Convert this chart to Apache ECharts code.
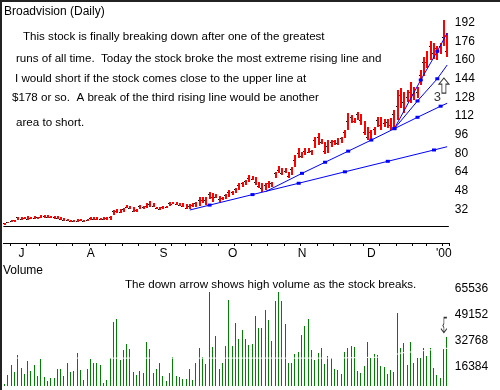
<!DOCTYPE html>
<html><head><meta charset="utf-8">
<script src="https://cdn.jsdelivr.net/npm/echarts@6/dist/echarts.min.js"></script>
<style>html,body{margin:0;padding:0;background:#fff}#c{width:500px;height:390px}</style>
</head><body><div id="c"></div>
<script>
// ---- data ----
const startDate = '1999-06-24';
const holidays = ['1999-07-05','1999-09-06','1999-11-25','1999-12-24'];
const priceLow = [18.7,20.2,21.0,21.6,22.7,23.3,23.6,23.3,23.6,24.2,24.2,24.5,24.5,24.5,24.5,23.6,23.6,23.0,22.2,22.2,21.0,21.3,21.6,22.2,21.6,22.2,23.0,23.3,23.3,22.7,23.0,23.3,23.3,27.3,28.7,29.3,30.1,33.0,32.4,30.1,30.1,32.1,32.4,33.5,33.8,34.4,32.1,31.5,32.4,33.0,35.0,36.4,35.8,35.2,34.4,32.4,32.4,33.8,34.4,35.2,37.2,35.8,40.7,38.8,41.6,38.8,40.2,40.7,42.5,44.5,45.9,48.7,51.6,53.0,55.9,57.3,53.0,50.2,47.3,48.7,50.2,51.6,58.7,63.0,61.6,63.0,58.7,61.6,68.7,75.9,75.9,78.7,80.2,78.7,84.4,87.3,88.1,79.6,80.2,85.9,87.3,87.3,88.7,93.0,100.1,105.9,105.9,108.7,104.4,96.0,91.5,91.0,95.8,102.9,100.1,102.9,101.5,100.1,102.9,108.7,118.6,114.4,124.4,122.9,125.8,127.2,138.6,146.0,152.9,160.0,161.0,160.0,165.0,172.0,163.0];
const priceHigh = [20.7,21.6,22.7,23.3,25.9,25.6,25.6,26.4,25.9,26.4,25.9,27.0,27.3,27.3,26.7,26.4,26.4,25.9,24.5,23.6,23.0,23.0,23.6,23.9,23.3,23.6,25.6,25.6,25.3,25.0,25.3,25.6,26.7,31.5,32.4,32.1,33.0,35.8,35.2,33.8,32.1,35.8,35.0,37.2,39.5,37.2,34.4,33.8,35.2,35.2,38.1,38.7,38.1,37.2,37.2,36.7,36.7,37.2,38.1,42.4,42.5,42.5,47.3,46.5,45.3,43.6,42.5,45.3,48.7,48.2,50.2,54.5,55.9,57.3,61.6,60.7,59.6,55.9,55.0,54.5,56.7,55.9,64.4,69.3,67.3,67.3,64.4,68.7,78.7,84.4,81.6,84.4,84.4,83.0,94.4,97.3,92.1,90.1,91.6,91.6,91.6,93.0,94.4,100.1,114.4,113.0,110.1,115.8,113.8,108.0,102.9,100.1,102.4,111.5,110.9,109.2,109.2,110.1,117.2,134.3,135.8,132.9,134.3,141.5,137.2,137.2,151.5,162.9,168.0,176.0,175.0,172.0,175.0,194.0,183.0];
const priceClose = [20.2,21.2,22.3,22.8,25.3,24.0,24.6,24.2,25.0,25.1,25.4,25.5,26.2,25.6,25.5,25.3,24.5,23.8,23.0,22.9,22.0,22.6,22.3,22.8,22.6,23.2,24.8,24.1,24.2,24.0,23.6,24.6,25.8,30.6,31.0,30.2,32.4,34.6,33.2,31.0,31.4,34.9,33.8,35.2,36.5,35.0,33.0,32.4,34.0,34.5,37.5,37.0,36.5,36.0,35.1,33.5,35.0,35.7,37.3,40.5,39.8,40.2,45.5,43.0,42.8,41.0,41.6,44.2,46.8,47.1,49.4,53.0,54.6,56.4,59.0,58.4,55.2,52.0,50.6,53.2,54.8,55.0,63.2,65.5,63.6,65.4,61.0,67.0,74.5,80.6,78.0,82.5,81.4,82.2,91.8,94.0,90.0,82.0,86.0,89.6,90.5,89.4,93.2,98.5,108.0,111.4,108.2,113.5,109.0,98.5,94.0,98.2,101.0,109.0,104.5,106.4,107.0,104.8,114.0,121.0,130.5,124.0,128.0,132.5,131.0,133.0,147.0,158.0,158.5,172.0,166.0,170.5,172.0,180.0,168.0];
const volume = [5540,11189,17465,13281,23741,15791,12000,19975,13909,17465,10771,21231,10143,7633,9515,9515,14955,14955,10771,18720,12863,13700,24996,14327,8051,14955,21231,18720,18720,17465,5959,8260,21858,44661,46335,20603,26879,30645,27507,13072,11189,13700,12235,31900,27716,12654,14955,18720,10771,7633,12444,22486,10561,10143,8888,8679,14955,8051,18511,28134,22695,18302,63280,28764,35667,14955,18720,29392,58259,29392,43615,33785,39431,33785,30000,30645,48218,40896,40896,51983,45707,32527,57632,63280,57632,43197,18511,18511,24369,25624,36293,41945,46335,26879,20603,24996,28134,18093,23112,21858,14955,14327,11817,25624,28134,29392,28974,13700,12444,16838,31900,21858,24369,23741,16838,16210,11817,14327,13072,50100,28134,31272,17465,31900,18720,21858,21858,28134,23112,28134,15583,11189,9306,27507,35040];
const volMaIdx = [0,100,116,120,134];
const volMaVal = [21800,21800,22500,25000,28000];
// trend lines: endpoints + marker points (index, price)
const lineA_idx = [56,62,75,89,103,116,130,134];
const lineA_val = [31.6,35.8,44.8,54.5,64.3,73.3,83.0,85.8];
const lineA_mark = [0,1,1,1,1,1,1,0];
const lineB_idx = [79,90,97,104,111,125,132,134];
const lineB_val = [47.4,63.0,72.5,82.0,91.5,111.0,120.5,123.0];
const lineB_mark = [0,1,1,1,1,1,1,0];
const line1_idx = [118,126,131,134];
const line1_val = [101.3,143.0,167.5,183.2];
const line1_mark = [1,1,1,0];
const line2_idx = [118,125,131,134];
const line2_val = [101.3,125.0,144.0,155.8];
const line2_mark = [1,1,1,0];
const priceTicks = [32,48,64,80,96,112,128,144,160,176,192];
const volumeTicks = [16384,32768,49152,65536];
const monthLetters = ['J','F','M','A','M','J','J','A','S','O','N','D'];
const upArrowAt = [133, 138.2];
const label3At = [131, 128.4];
const downArrowAt = [133, 42500];
const panelBottomPrice = 17.45;
const volBase = 4096;
const titleText = 'Broadvision (Daily)';
const noteLines = [
  'This stock is finally breaking down after one of the greatest',
  'runs of all time.  Today the stock broke the most extreme rising line and',
  'I would short if the stock comes close to the upper line at',
  '$178 or so.  A break of the third rising line would be another',
  'area to short.'
];
const volTitle = 'Volume';
const volNote = 'The down arrow shows high volume as the stock breaks.';

// ---- build categories (trading days) ----
const n = priceLow.length;
const dates = [];
{
  let d = new Date(startDate + 'T00:00:00Z');
  while (dates.length < n) {
    const s = d.toISOString().slice(0,10);
    const wd = d.getUTCDay();
    if (wd !== 0 && wd !== 6 && holidays.indexOf(s) < 0) dates.push(s);
    d = new Date(d.getTime() + 86400000);
  }
}
function isMonthStart(k){ return k > 0 && dates[k].slice(5,7) !== dates[k-1].slice(5,7); }
function isWeekStart(k){
  if (k === 0) return false;
  const a = new Date(dates[k]+'T00:00:00Z').getUTCDay();
  const b = new Date(dates[k-1]+'T00:00:00Z').getUTCDay();
  return a < b;
}
function monthLabel(k){
  const y = dates[k].slice(0,4), m = +dates[k].slice(5,7);
  if (m === 1) return "'" + y.slice(2);
  return monthLetters[m-1];
}
function buildLine(idx, val, mark){
  const arr = new Array(n).fill(null);
  idx.forEach((k,j)=>{ arr[k] = {value: val[j], symbolSize: mark[j] ? [4,3] : 0}; });
  return arr;
}
const volMa = new Array(n).fill(null);
volMaIdx.forEach((k,j)=>{ volMa[k] = volMaVal[j]; });

const FONT = '"Liberation Sans", Arial, sans-serif';
const chart = echarts.init(document.getElementById('c'), null, {renderer:'canvas'});

const lineStyleBlue = {color:'#0000ff', width:1};
function trend(name, idx, val, mark){
  return {
    name, type:'line', xAxisIndex:0, yAxisIndex:0, data: buildLine(idx,val,mark),
    connectNulls:true, symbol:'rect', showAllSymbol:true, z:5,
    lineStyle: lineStyleBlue, itemStyle:{color:'#0000ff'}, emphasis:{disabled:true}, silent:true
  };
}
const NOTE_FONT = '11.6px ' + FONT;

const option = {
  animation:false,
  backgroundColor:'#ffffff',
  textStyle:{fontFamily:FONT},
  grid:[
    {left:3.35, width:445.5, top:4.02, height:224.2},
    {left:3.35, width:445.5, top:262.3, height:124}
  ],
  xAxis:[
    {type:'category', gridIndex:0, data:dates, boundaryGap:true, position:'bottom', offset:14.8,
     axisLine:{show:true, lineStyle:{color:'#000', width:1}},
     axisTick:{show:true, length:3, interval:(i)=>isWeekStart(i), lineStyle:{color:'#000'}},
     axisLabel:{show:true, interval:(i)=>isMonthStart(i), formatter:(v,i)=>monthLabel(i),
                color:'#000', fontSize:12, margin:5, fontFamily:FONT},
     splitLine:{show:false}},
    {type:'category', gridIndex:1, data:dates, boundaryGap:true, show:false}
  ],
  yAxis:[
    {type:'value', gridIndex:0, position:'right', min:16, max:208, interval:16,
     axisLine:{show:false}, axisTick:{show:false}, splitLine:{show:false},
     axisLabel:{margin:6, color:'#000', fontSize:12, fontFamily:FONT,
                formatter:(v)=> priceTicks.indexOf(v) >= 0 ? String(v) : ''}},
    {type:'value', gridIndex:1, position:'right', min:4096, max:81920, interval:4096,
     axisLine:{show:false}, axisTick:{show:false}, splitLine:{show:false},
     axisLabel:{margin:6, color:'#000', fontSize:12, fontFamily:FONT,
                formatter:(v)=> volumeTicks.indexOf(v) >= 0 ? String(v) : ''}}
  ],
  series:[
    {
      name:'price', type:'custom', xAxisIndex:0, yAxisIndex:0, silent:true,
      data: priceLow.map((l,k)=>[k, l, priceHigh[k], priceClose[k]]),
      encode:{x:0, y:[1,2,3]},
      renderItem:function(params, api){
        const k = api.value(0);
        const pL = api.coord([k, api.value(1)]);
        const pH = api.coord([k, api.value(2)]);
        const pC = api.coord([k, api.value(3)]);
        const x = Math.round(pH[0]);
        return {type:'group', children:[
          {type:'rect', shape:{x:x-1, y:Math.round(pH[1]), width:2, height:Math.max(1, Math.round(pL[1])-Math.round(pH[1]))}, style:{fill:'#ff0000'}},
          {type:'rect', shape:{x:x-2, y:Math.round(pC[1]), width:1, height:1}, style:{fill:'#000000'}}
        ]};
      },
      z:3
    },
    Object.assign(trend('lineA', lineA_idx, lineA_val, lineA_mark), {
      markLine:{silent:true, symbol:'none', label:{show:false},
        lineStyle:{color:'#000', width:1, type:'solid'}, data:[{yAxis:panelBottomPrice}]}
    }),
    trend('lineB', lineB_idx, lineB_val, lineB_mark),
    trend('line1', line1_idx, line1_val, line1_mark),
    trend('line2', line2_idx, line2_val, line2_mark),
    {name:'upArrow', type:'scatter', xAxisIndex:0, yAxisIndex:0, silent:true, z:6,
     data:[upArrowAt], symbol:'path://M5,0 L10,6 L7,6 L7,15 L3,15 L3,6 L0,6 Z', symbolSize:[10,15],
     itemStyle:{color:'#ffffff', borderColor:'#000', borderWidth:1}},
    {name:'label3', type:'scatter', xAxisIndex:0, yAxisIndex:0, silent:true, z:6,
     data:[label3At], symbolSize:0,
     label:{show:true, position:'inside', formatter:'3', color:'#000', fontSize:13, fontFamily:FONT}},
    {name:'volume', type:'custom', xAxisIndex:1, yAxisIndex:1, silent:true, z:3,
     data: volume.map((v,k)=>[k, v]), encode:{x:0, y:1},
     renderItem:function(params, api){
       const k = api.value(0);
       const pT = api.coord([k, api.value(1)]);
       const pB = api.coord([k, volBase]);
       const x = Math.round(pT[0]) - 1;
       const y = Math.round(pT[1]);
       return {type:'rect', shape:{x:x, y:y, width:1, height:Math.round(pB[1]) - y}, style:{fill:'#008000'}};
     }},
    {name:'volMA', type:'line', xAxisIndex:1, yAxisIndex:1, data:volMa, connectNulls:true,
     symbol:'none', silent:true, lineStyle:{color:'#ffffff', width:1}, z:4},
    {name:'downArrow', type:'scatter', xAxisIndex:1, yAxisIndex:1, silent:true, z:6,
     data:[downArrowAt], symbol:'path://M6,0 L3,0 L3,6 L2,8 L3,10 L3,14 M0,11 L3,15 L6,11', symbolSize:[6,15],
     itemStyle:{color:'transparent', borderColor:'#000', borderWidth:1}}
  ],
  graphic:[
    {type:'line', shape:{x1:0, y1:1, x2:500, y2:1}, style:{stroke:'#222', lineWidth:2}, silent:true},
    {type:'line', shape:{x1:1, y1:0, x2:1, y2:390}, style:{stroke:'#222', lineWidth:2}, silent:true},
    {type:'text', left:4, top:6, style:{text:titleText, fill:'#000', font:'12px '+FONT}},
    {type:'text', left:23, top:31, style:{text:noteLines[0], fill:'#000', font:NOTE_FONT}},
    {type:'text', left:16, top:53, style:{text:noteLines[1], fill:'#000', font:NOTE_FONT}},
    {type:'text', left:15, top:73, style:{text:noteLines[2], fill:'#000', font:NOTE_FONT}},
    {type:'text', left:12, top:92, style:{text:noteLines[3], fill:'#000', font:NOTE_FONT}},
    {type:'text', left:16, top:117, style:{text:noteLines[4], fill:'#000', font:NOTE_FONT}},
    {type:'text', left:3, top:265, style:{text:volTitle, fill:'#000', font:'12px '+FONT}},
    {type:'text', left:125, top:279, style:{text:volNote, fill:'#000', font:NOTE_FONT}}
  ]
};
chart.setOption(option);
</script>
</body></html>
